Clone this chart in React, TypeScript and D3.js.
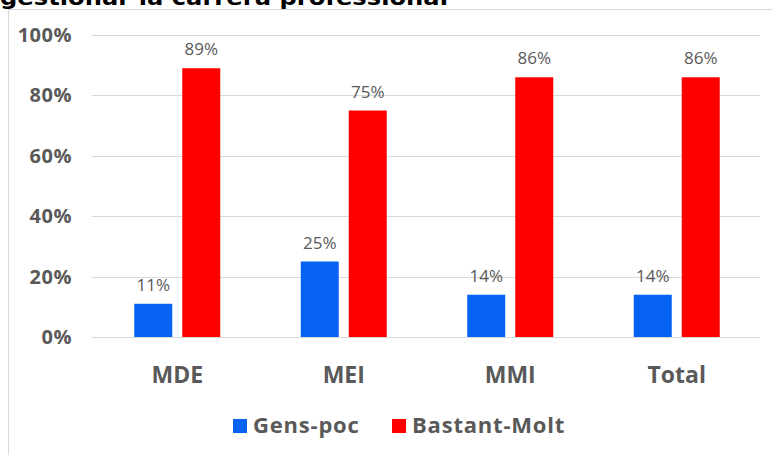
import React from "react";
import * as d3 from "d3";

const categories = ["MDE", "MEI", "MMI", "Total"];
const seriesNames = ["Gens-poc", "Bastant-Molt"];
const gensPoc = [11, 25, 14, 14];
const bastantMolt = [89, 75, 86, 86];
const yTicks = [0, 20, 40, 60, 80, 100];
const colors = ["#0763F2", "#FF0000"];
const title = "gestionar la carrera professional";

export default function App() {
  const W = 772, H = 455;
  const gridLeft = 92, gridRight = 760;
  const top = 35, bottom = 337;
  const x = d3.scaleBand<string>().domain(categories).range([94, 760]).paddingInner(0).paddingOuter(0);
  const y = d3.scaleLinear().domain([0, 100]).range([bottom, top]);
  const barW = 38, gap = 10;
  const series = [gensPoc, bastantMolt];
  const font = "'Open Sans', 'Noto Sans', sans-serif";
  return (
    <svg width={W} height={H} style={{ position: "absolute", left: 0, top: 0, background: "#fff" }}>
      <rect x={0} y={0} width={W} height={H} fill="#fff" />
      <text x={0} y={5} fontFamily="'DejaVu Sans', sans-serif" fontWeight="bold" fontSize={22} fill="#000" textLength={448} lengthAdjust="spacingAndGlyphs">{title}</text>
      <line x1={8} x2={W} y1={9.5} y2={9.5} stroke="#d9d9d9" />
      <line x1={8.5} x2={8.5} y1={9} y2={H} stroke="#d9d9d9" />
      {yTicks.map((t) => (
        <g key={t}>
          <line x1={gridLeft} x2={gridRight} y1={Math.round(y(t)) + 0.5} y2={Math.round(y(t)) + 0.5} stroke="#d9d9d9" strokeWidth={1} />
          <text x={72} y={y(t)} dy="0.35em" textAnchor="end" fontFamily={font} fontWeight="bold" fontSize={20} letterSpacing={0.5} fill="#595959">{t}%</text>
        </g>
      ))}
      {categories.map((c, i) => {
        const cx = (x(c) as number) + x.bandwidth() / 2;
        return (
          <g key={c}>
            {series.map((s, j) => {
              const bx = j === 0 ? cx - gap / 2 - barW : cx + gap / 2;
              return (
                <g key={j}>
                  <rect x={bx} y={y(s[i])} width={barW} height={bottom - y(s[i])} fill={colors[j]} />
                  <text x={bx + barW / 2} y={y(s[i]) - 13} textAnchor="middle" fontFamily={font} fontSize={17} fill="#595959">{s[i]}%</text>
                </g>
              );
            })}
            <text x={cx} y={383} textAnchor="middle" fontFamily={font} fontWeight="bold" fontSize={23} fill="#595959">{c}</text>
          </g>
        );
      })}
      {seriesNames.map((n, j) => {
        const lx = j === 0 ? 233 : 392;
        return (
          <g key={n}>
            <rect x={lx} y={419} width={14} height={14} fill={colors[j]} />
            <text x={lx + 20} y={433} fontFamily={font} fontWeight="bold" fontSize={22} letterSpacing={0.8} fill="#595959">{n}</text>
          </g>
        );
      })}
    </svg>
  );
}
